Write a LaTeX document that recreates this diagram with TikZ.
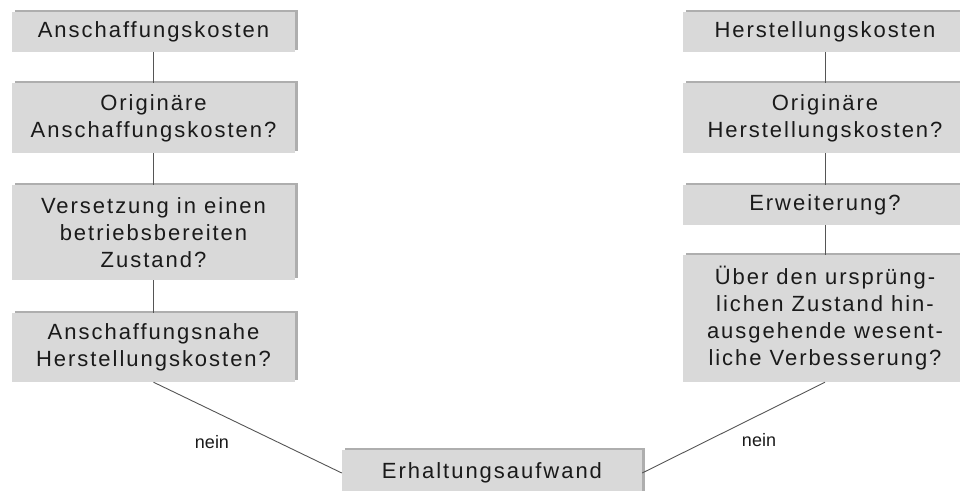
\documentclass[tikz,border=0pt]{standalone}
\usepackage{fontspec}
\setmainfont{Liberation Sans}
\usetikzlibrary{shadows}
\definecolor{boxfill}{HTML}{D9D9D9}
\definecolor{linec}{HTML}{555555}
\definecolor{txt}{HTML}{1A1A1A}
\tikzset{
  box/.style={fill=boxfill, text=txt, inner sep=0pt, align=center,
    font=\addfontfeatures{LetterSpace=9}\fontsize{22}{27}\selectfont,
    general shadow={shadow xshift=2.5pt, shadow yshift=2.5pt, fill=black!45, opacity=0.7}},
  conn/.style={draw=linec, line width=0.9pt},
  lbl/.style={text=txt, font=\fontsize{18}{20}\selectfont, inner sep=0pt}
}
\begin{document}
\begin{tikzpicture}[x=1pt,y=-1pt]
\useasboundingbox (0,0) rectangle (960,490);
\clip (0,0) rectangle (960,490);
% left column
\node[box, minimum width=283pt, minimum height=40pt] (L1) at (153.5,32) {Anschaffungskosten};
\node[box, minimum width=283pt, minimum height=70pt] (L2) at (153.5,118) {Originäre\\Anschaffungskosten?};
\node[box, minimum width=283pt, minimum height=95pt] (L3) at (153.5,232.5) {Versetzung in einen\\betriebsbereiten\\Zustand?};
\node[box, minimum width=283pt, minimum height=69pt] (L4) at (153.5,347.5) {Anschaffungsnahe\\Herstellungskosten?};
% right column
\node[box, minimum width=284pt, minimum height=40pt] (R1) at (825,32) {Herstellungskosten};
\node[box, minimum width=284pt, minimum height=70pt] (R2) at (825,118) {Originäre\\Herstellungskosten?};
\node[box, minimum width=284pt, minimum height=40pt] (R3) at (825,205) {Erweiterung?};
\node[box, minimum width=284pt, minimum height=127pt] (R4) at (825,318.5) {Über den ursprüng-\\lichen Zustand hin-\\ausgehende wesent-\\liche Verbesserung?};
% bottom
\node[box, minimum width=300pt, minimum height=46pt] (B) at (492,473) {Erhaltungsaufwand};
% connectors
\draw[conn] (L1.south) -- (L2.north);
\draw[conn] (L2.south) -- (L3.north);
\draw[conn] (L3.south) -- (L4.north);
\draw[conn] (R1.south) -- (R2.north);
\draw[conn] (R2.south) -- (R3.north);
\draw[conn] (R3.south) -- (R4.north);
\draw[conn] (L4.south) -- (B.west);
\draw[conn] (R4.south) -- (B.east);
\node[lbl] (n1) at (212,442) {nein};
\node[lbl] (n2) at (759,440) {nein};
\end{tikzpicture}
\end{document}
